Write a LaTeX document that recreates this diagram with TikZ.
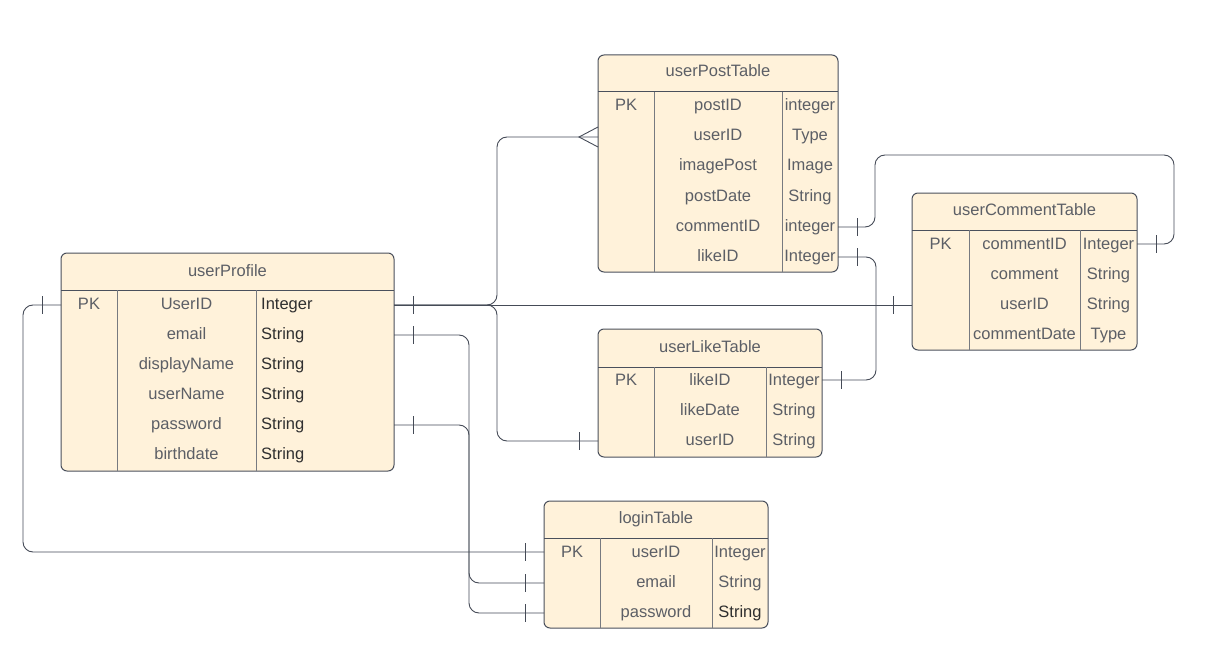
\documentclass[tikz,border=0pt]{standalone}
\usepackage{fontspec}
\setmainfont{Liberation Sans}
\usetikzlibrary{calc}
\definecolor{cream}{HTML}{FFF2DA}
\definecolor{edge}{HTML}{4A505C}
\definecolor{txt}{HTML}{5C5F66}
\definecolor{dark}{HTML}{2F2F2F}
\definecolor{sep}{HTML}{777A80}
\definecolor{wire}{HTML}{454B57}

\begin{document}
\begin{tikzpicture}[x=1pt,y=-1pt,
  font=\fontsize{16.5}{19}\selectfont,
  tbl/.style={draw=edge, fill=cream, line width=1pt, rounded corners=6pt,
              inner sep=0pt, outer sep=0pt},
  rule/.style={draw=edge, line width=1pt},
  colrule/.style={draw=sep, line width=1pt},
  lbl/.style={text=txt, anchor=base, inner sep=0pt},
  typl/.style={text=dark, anchor=base west, inner sep=0pt},
  conn/.style={draw=wire, line width=0.9pt, rounded corners=10pt},
  onebar/.pic={\draw[draw=wire, line width=0.9pt] (0,-9) -- (0,9);},
  crowfoot/.pic={\draw[draw=wire, line width=0.9pt] (19,-10) -- (0,0) -- (19,10);}
]
\useasboundingbox (0,0) rectangle (1205,666);

% ---------- userPostTable ----------
\node[tbl, minimum width=240pt, minimum height=217pt] (post) at (718,163.5) {};
\draw[rule] (598,92) -- (838,92);
\draw[colrule] (654,92) -- (654,272);
\draw[colrule] (782,92) -- (782,272);
\node[lbl] (post-t) at (718,77) {userPostTable};
\node[lbl] (post-pk) at (626,111) {PK};
\node[lbl] (post-n1) at (718,111) {postID};     \node[lbl] (post-y1) at (810,111) {integer};
\node[lbl] (post-n2) at (718,141) {userID};     \node[lbl] (post-y2) at (810,141) {Type};
\node[lbl] (post-n3) at (718,171) {imagePost};  \node[lbl] (post-y3) at (810,171) {Image};
\node[lbl] (post-n4) at (718,201) {postDate};   \node[lbl] (post-y4) at (810,201) {String};
\node[lbl] (post-n5) at (718,231) {commentID};  \node[lbl] (post-y5) at (810,231) {integer};
\node[lbl] (post-n6) at (718,261) {likeID};     \node[lbl] (post-y6) at (810,261) {Integer};

% ---------- userProfile ----------
\node[tbl, minimum width=333pt, minimum height=218pt] (prof) at (227.5,362) {};
\draw[rule] (61,290) -- (394,290);
\draw[colrule] (117,290) -- (117,471);
\draw[colrule] (256,290) -- (256,471);
\node[lbl] (prof-t) at (227.5,276) {userProfile};
\node[lbl] (prof-pk) at (89,309) {PK};
\node[lbl] (prof-n1) at (186.5,309) {UserID};      \node[typl] (prof-y1) at (261,309) {Integer};
\node[lbl] (prof-n2) at (186.5,339) {email};       \node[typl] (prof-y2) at (261,339) {String};
\node[lbl] (prof-n3) at (186.5,369) {displayName}; \node[typl] (prof-y3) at (261,369) {String};
\node[lbl] (prof-n4) at (186.5,399) {userName};    \node[typl] (prof-y4) at (261,399) {String};
\node[lbl] (prof-n5) at (186.5,429) {password};    \node[typl] (prof-y5) at (261,429) {String};
\node[lbl] (prof-n6) at (186.5,459) {birthdate};   \node[typl] (prof-y6) at (261,459) {String};

% ---------- userCommentTable ----------
\node[tbl, minimum width=225pt, minimum height=157pt] (cmt) at (1024.5,271.5) {};
\draw[rule] (912,230) -- (1137,230);
\draw[colrule] (969,230) -- (969,350);
\draw[colrule] (1080,230) -- (1080,350);
\node[lbl] (cmt-t) at (1024.5,215) {userCommentTable};
\node[lbl] (cmt-pk) at (940.5,249) {PK};
\node[lbl] (cmt-n1) at (1024.5,249) {commentID};   \node[lbl] (cmt-y1) at (1108.5,249) {Integer};
\node[lbl] (cmt-n2) at (1024.5,279) {comment};     \node[lbl] (cmt-y2) at (1108.5,279) {String};
\node[lbl] (cmt-n3) at (1024.5,309) {userID};      \node[lbl] (cmt-y3) at (1108.5,309) {String};
\node[lbl] (cmt-n4) at (1024.5,339) {commentDate}; \node[lbl] (cmt-y4) at (1108.5,339) {Type};

% ---------- userLikeTable ----------
\node[tbl, minimum width=224pt, minimum height=128pt] (like) at (710,393) {};
\draw[rule] (598,367) -- (822,367);
\draw[colrule] (654,367) -- (654,457);
\draw[colrule] (766,367) -- (766,457);
\node[lbl] (like-t) at (710,352) {userLikeTable};
\node[lbl] (like-pk) at (626,385) {PK};
\node[lbl] (like-n1) at (710,385) {likeID};   \node[lbl] (like-y1) at (794,385) {Integer};
\node[lbl] (like-n2) at (710,415) {likeDate}; \node[lbl] (like-y2) at (794,415) {String};
\node[lbl] (like-n3) at (710,445) {userID};   \node[lbl] (like-y3) at (794,445) {String};

% ---------- loginTable ----------
\node[tbl, minimum width=224pt, minimum height=127pt] (login) at (656,564.5) {};
\draw[rule] (544,538) -- (768,538);
\draw[colrule] (600,538) -- (600,628);
\draw[colrule] (712,538) -- (712,628);
\node[lbl] (login-t) at (656,523) {loginTable};
\node[lbl] (login-pk) at (572,557) {PK};
\node[lbl] (login-n1) at (656,557) {userID};   \node[lbl] (login-y1) at (740,557) {Integer};
\node[lbl] (login-n2) at (656,587) {email};    \node[lbl] (login-y2) at (740,587) {String};
\node[lbl] (login-n3) at (656,617) {password}; \node[lbl, text=dark] (login-y3) at (740,617) {String};

% ---------- connection ports on the table edges ----------
\coordinate (pUidE)  at (prof.east |- 0,305);
\coordinate (pUidW)  at (prof.west |- 0,305);
\coordinate (pMailE) at (prof.east |- 0,335);
\coordinate (pPassE) at (prof.east |- 0,425);
\coordinate (postUid)  at (post.west |- 0,137);
\coordinate (postCmt)  at (post.east |- 0,227);
\coordinate (postLike) at (post.east |- 0,257);
\coordinate (cmtUid)   at (cmt.west |- 0,305);
\coordinate (cmtCid)   at (cmt.east |- 0,244);
\coordinate (likeLid)  at (like.east |- 0,380);
\coordinate (likeUid)  at (like.west |- 0,441);
\coordinate (logUid)   at (login.west |- 0,552);
\coordinate (logMail)  at (login.west |- 0,583);
\coordinate (logPass)  at (login.west |- 0,613);

% ---------- relationships ----------
% userProfile -> userPostTable (one to many)
\draw[conn] (pUidE) -- (497,305) -- (497,137) -- (postUid);
% userProfile -> userLikeTable
\draw[conn] (pUidE) -- (497,305) -- (497,441) -- (likeUid);
% userProfile -> userCommentTable
\draw[conn] (pUidE) -- (cmtUid);
% userProfile email / password -> loginTable
\draw[conn] (pMailE) -- (469,335) -- (469,583) -- (logMail);
\draw[conn] (pPassE) -- (469,425) -- (469,613) -- (logPass);
% userProfile UserID (left side) -> loginTable userID
\draw[conn] (pUidW) -- (23,305) -- (23,552) -- (logUid);
% userPostTable commentID -> userCommentTable commentID
\draw[conn] (postCmt) -- (875,227) -- (875,155) -- (1174,155) -- (1174,244) -- (cmtCid);
% userPostTable likeID -> userLikeTable likeID
\draw[conn] (postLike) -- (876,257) -- (876,380) -- (likeLid);

% ---------- cardinality marks ----------
\pic at ($(pUidE)+(19,0)$) {onebar};
\pic at ($(pMailE)+(19,0)$) {onebar};
\pic at ($(pPassE)+(19,0)$) {onebar};
\pic at ($(pUidW)+(-19,0)$) {onebar};
\pic at ($(logUid)+(-19,0)$) {onebar};
\pic at ($(logMail)+(-19,0)$) {onebar};
\pic at ($(logPass)+(-19,0)$) {onebar};
\pic at ($(likeUid)+(-19,0)$) {onebar};
\pic at ($(cmtUid)+(-19,0)$) {onebar};
\pic at ($(postCmt)+(19,0)$) {onebar};
\pic at ($(postLike)+(19,0)$) {onebar};
\pic at ($(cmtCid)+(19,0)$) {onebar};
\pic at ($(likeLid)+(19,0)$) {onebar};
\pic at ($(postUid)+(-19,0)$) {crowfoot};
\end{tikzpicture}
\end{document}
